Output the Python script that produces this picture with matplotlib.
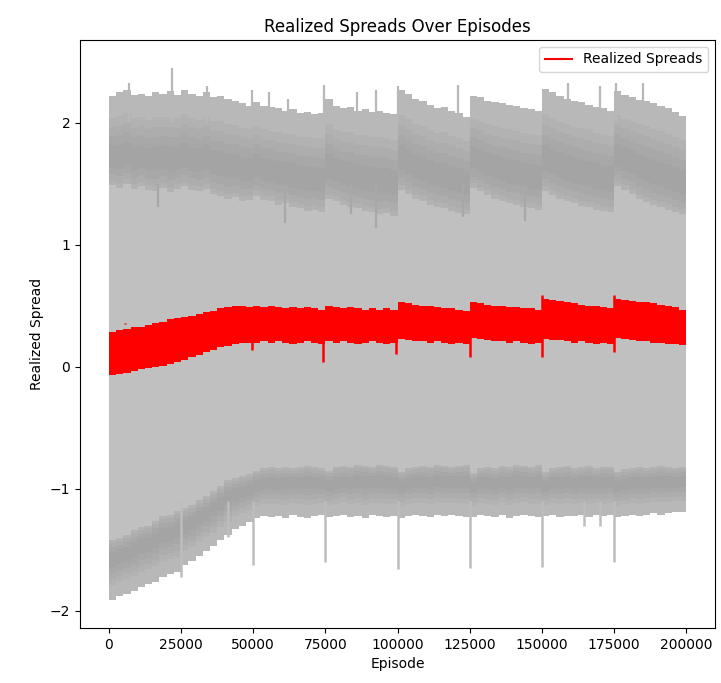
import numpy as np
import matplotlib
matplotlib.use('Agg')
import matplotlib.pyplot as plt
from matplotlib.lines import Line2D

# episodes sampled every 2500 (0 .. 200000)
episodes = np.arange(0, 200001, 2500)

# upper edge of the grey band
gray_top = [2.22, 2.25, 2.27, 2.23, 2.24, 2.22, 2.25, 2.24, 2.26, 2.23,
            2.27, 2.24, 2.22, 2.25, 2.21, 2.22, 2.20, 2.18, 2.16, 2.14,
            2.17, 2.14, 2.13, 2.12, 2.10, 2.11, 2.08, 2.09, 2.07, 2.08,
            2.20, 2.14, 2.12, 2.13, 2.10, 2.11, 2.09, 2.10, 2.08, 2.07,
            2.27, 2.24, 2.20, 2.18, 2.15, 2.12, 2.13, 2.10, 2.08, 2.05,
            2.22, 2.21, 2.18, 2.17, 2.16, 2.15, 2.14, 2.12, 2.11, 2.10,
            2.28, 2.25, 2.22, 2.20, 2.18, 2.17, 2.15, 2.13, 2.12, 2.10,
            2.26, 2.23, 2.21, 2.19, 2.18, 2.16, 2.14, 2.12, 2.09, 2.06, 2.06]
# lower edge of the dark upper part
gray_top_in = [1.49, 1.47, 1.50, 1.46, 1.48, 1.45, 1.44, 1.47, 1.43, 1.46,
               1.48, 1.45, 1.44, 1.46, 1.42, 1.40, 1.38, 1.39, 1.36, 1.37,
               1.40, 1.37, 1.36, 1.33, 1.34, 1.31, 1.30, 1.28, 1.29, 1.27,
               1.38, 1.36, 1.33, 1.31, 1.30, 1.28, 1.27, 1.25, 1.26, 1.24,
               1.45, 1.42, 1.38, 1.36, 1.33, 1.31, 1.30, 1.28, 1.26, 1.25,
               1.47, 1.44, 1.41, 1.38, 1.36, 1.34, 1.33, 1.31, 1.30, 1.29,
               1.44, 1.41, 1.38, 1.36, 1.34, 1.32, 1.31, 1.29, 1.28, 1.27,
               1.48, 1.45, 1.42, 1.38, 1.35, 1.33, 1.31, 1.29, 1.27, 1.25, 1.25]
# upper edge of the dark lower part
gray_bot_in = [-1.42, -1.40, -1.38, -1.34, -1.31, -1.30, -1.26, -1.22, -1.21, -1.18,
               -1.16, -1.13, -1.09, -1.06, -1.02, -0.98, -0.93, -0.91, -0.89, -0.88,
               -0.85, -0.83, -0.82, -0.83, -0.82, -0.83, -0.82, -0.81, -0.82, -0.83,
               -0.85, -0.82, -0.81, -0.82, -0.80, -0.81, -0.82, -0.80, -0.81, -0.82,
               -0.86, -0.83, -0.82, -0.81, -0.82, -0.80, -0.81, -0.82, -0.81, -0.80,
               -0.87, -0.83, -0.82, -0.83, -0.81, -0.82, -0.80, -0.81, -0.82, -0.80,
               -0.86, -0.83, -0.82, -0.81, -0.83, -0.82, -0.81, -0.83, -0.82, -0.82,
               -0.86, -0.84, -0.83, -0.82, -0.83, -0.82, -0.81, -0.82, -0.83, -0.82, -0.82]
# lower edge of the grey band
gray_bot = [-1.91, -1.88, -1.86, -1.84, -1.80, -1.78, -1.76, -1.72, -1.70, -1.68,
            -1.62, -1.59, -1.55, -1.51, -1.47, -1.42, -1.38, -1.33, -1.30, -1.27,
            -1.24, -1.22, -1.23, -1.22, -1.24, -1.21, -1.23, -1.24, -1.22, -1.21,
            -1.23, -1.22, -1.21, -1.23, -1.22, -1.24, -1.21, -1.22, -1.23, -1.22,
            -1.24, -1.22, -1.21, -1.22, -1.23, -1.21, -1.22, -1.21, -1.22, -1.23,
            -1.23, -1.21, -1.22, -1.23, -1.21, -1.24, -1.22, -1.21, -1.22, -1.23,
            -1.22, -1.21, -1.23, -1.22, -1.22, -1.21, -1.23, -1.21, -1.22, -1.21,
            -1.23, -1.22, -1.21, -1.22, -1.21, -1.20, -1.21, -1.20, -1.19, -1.19, -1.19]

# realized spreads envelope (red)
red_top = [0.29, 0.30, 0.31, 0.33, 0.33, 0.34, 0.36, 0.37, 0.39, 0.40,
           0.41, 0.42, 0.43, 0.45, 0.46, 0.48, 0.49, 0.50, 0.50, 0.49,
           0.50, 0.49, 0.50, 0.49, 0.48, 0.49, 0.48, 0.49, 0.48, 0.47,
           0.50, 0.49, 0.48, 0.49, 0.48, 0.47, 0.48, 0.47, 0.48, 0.47,
           0.53, 0.52, 0.51, 0.50, 0.50, 0.49, 0.48, 0.48, 0.47, 0.46,
           0.53, 0.52, 0.51, 0.50, 0.50, 0.49, 0.49, 0.48, 0.48, 0.47,
           0.56, 0.55, 0.54, 0.53, 0.52, 0.51, 0.50, 0.50, 0.49, 0.48,
           0.56, 0.55, 0.54, 0.53, 0.53, 0.52, 0.51, 0.50, 0.49, 0.47, 0.47]
red_bot = [-0.07, -0.06, -0.05, -0.03, -0.02, -0.01, 0.00, 0.01, 0.02, 0.04,
           0.06, 0.08, 0.10, 0.12, 0.14, 0.16, 0.17, 0.19, 0.20, 0.20,
           0.20, 0.21, 0.20, 0.21, 0.20, 0.19, 0.20, 0.21, 0.20, 0.19,
           0.21, 0.20, 0.21, 0.20, 0.19, 0.20, 0.21, 0.20, 0.19, 0.20,
           0.23, 0.22, 0.21, 0.21, 0.20, 0.21, 0.20, 0.19, 0.20, 0.19,
           0.24, 0.23, 0.22, 0.21, 0.21, 0.20, 0.21, 0.20, 0.19, 0.20,
           0.23, 0.22, 0.22, 0.21, 0.20, 0.21, 0.20, 0.19, 0.20, 0.19,
           0.24, 0.23, 0.22, 0.21, 0.21, 0.20, 0.20, 0.19, 0.19, 0.18, 0.18]

# isolated spikes (episode, value)
up_spike_x = [7000, 22000, 34000, 49700, 55600, 62000, 74600, 85800, 92500,
              100000, 121000, 159000, 170000, 175600, 185000]
up_spike_y = [2.33, 2.45, 2.30, 2.27, 2.25, 2.20, 2.31, 2.25, 2.27,
              2.30, 2.31, 2.33, 2.30, 2.33, 2.33]
in_spike_x = [17000, 61000, 84000, 92500, 122600, 144000]
in_spike_y = [1.31, 1.18, 1.25, 1.14, 1.23, 1.20]
low_spike_x = [25000, 41400, 50000, 75000, 100000, 125000, 150000, 164600, 170000, 175000]
low_spike_y = [-1.72, -1.39, -1.62, -1.60, -1.66, -1.65, -1.64, -1.30, -1.30, -1.60]
red_dn_x = [49600, 74300, 99300, 125000, 150000, 175000]
red_dn_y = [0.14, 0.04, 0.11, 0.08, 0.08, 0.12]
red_up_x = [5500, 150000, 175000]
red_up_y = [0.36, 0.59, 0.59]

gray_top = np.array(gray_top)
gray_top_in = np.array(gray_top_in)
gray_bot_in = np.array(gray_bot_in)
gray_bot = np.array(gray_bot)

fig = plt.figure(figsize=(7.21, 6.83), dpi=100)
ax = fig.add_axes([0.111, 0.0805, 0.881, 0.861])

# light grey fill
ax.fill_between(episodes, gray_bot, gray_top, step='post', color='#c0c0c0', lw=0)
ax.fill_between(episodes, gray_top_in, gray_top, step='post', color='#b8b8b8', lw=0)
ax.fill_between(episodes, gray_bot, gray_bot_in, step='post', color='#b8b8b8', lw=0)

# soft darker shading inside the noisy edge bands
span_top = gray_top - gray_top_in
span_bot = gray_bot_in - gray_bot
for a, b in [(0.0, 0.75), (0.05, 0.65), (0.12, 0.55), (0.2, 0.45)]:
    ax.fill_between(episodes, gray_top_in + a * span_top, gray_top_in + b * span_top,
                    step='post', color='#8c8c8c', alpha=0.12, lw=0)
    ax.fill_between(episodes, gray_bot_in - b * span_bot, gray_bot_in - a * span_bot,
                    step='post', color='#8c8c8c', alpha=0.12, lw=0)

ax.vlines(up_spike_x, 2.0, up_spike_y, color='#b8b8b8', lw=1.6)
ax.vlines(in_spike_x, 1.5, in_spike_y, color='#a8a8a8', lw=1.6)
ax.vlines(low_spike_x, -1.1, low_spike_y, color='#bdbdbd', lw=1.8)

# realized spreads
ax.fill_between(episodes, red_bot, red_top, step='post', color='red', lw=0)
ax.vlines(red_dn_x, 0.25, red_dn_y, color='red', lw=1.8)
ax.vlines(red_up_x, 0.35, red_up_y, color='red', lw=1.8)

ax.set_xlim(-10000, 210000)
ax.set_ylim(-2.14, 2.68)
ax.set_xticks(range(0, 200001, 25000))
ax.set_yticks([-2, -1, 0, 1, 2])
ax.set_title('Realized Spreads Over Episodes')
ax.set_xlabel('Episode')
ax.set_ylabel('Realized Spread')
handle = Line2D([], [], color='red', lw=1.5)
ax.legend([handle], ['Realized Spreads'], loc='upper right')

fig.savefig('out.png', dpi=100)
